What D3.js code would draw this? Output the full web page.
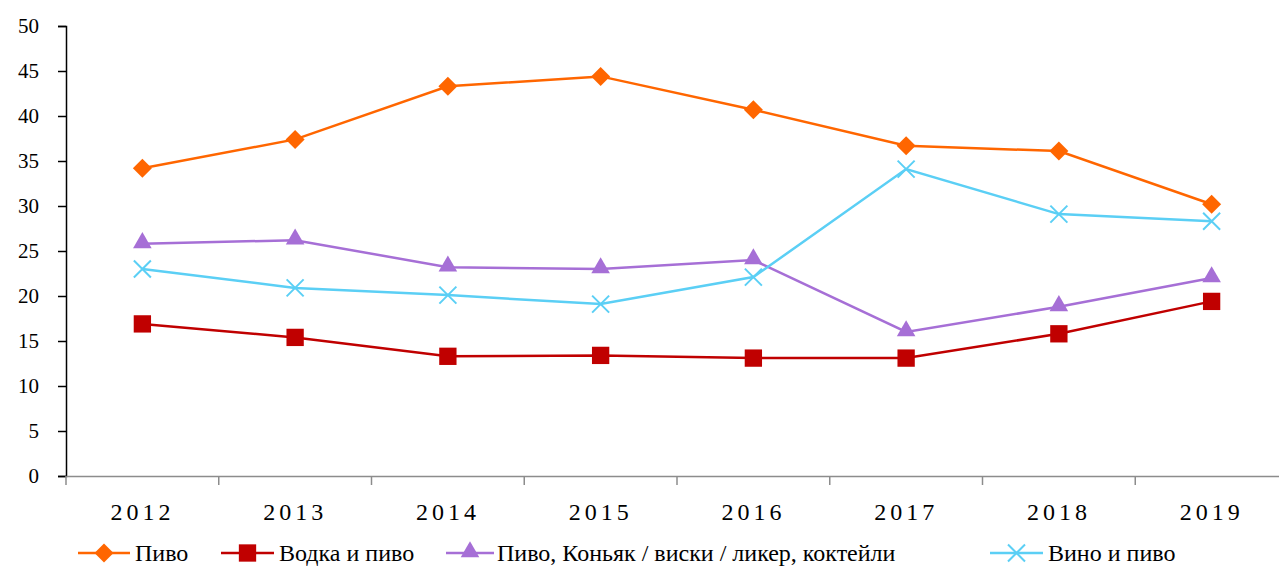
<!DOCTYPE html>
<html>
<head>
<meta charset="utf-8">
<script src="https://cdn.jsdelivr.net/npm/d3@7"></script>
<style>
  body { margin: 0; background: #fff; font-family: "Liberation Serif", serif; }
  text { font-family: "Liberation Serif", "Times New Roman", serif; }
</style>
</head>
<body>
<svg id="chart" width="1279" height="567" font-family="Liberation Serif"></svg>
<script>
// data
var years = ["2012", "2013", "2014", "2015", "2016", "2017", "2018", "2019"];
var pivo = [34.2, 37.4, 43.3, 44.4, 40.7, 36.7, 36.1, 30.2];
var vodkaPivo = [16.9, 15.4, 13.3, 13.4, 13.1, 13.1, 15.8, 19.4];
var pivoKonyak = [25.8, 26.2, 23.2, 23.0, 24.0, 16.0, 18.8, 22.0];
var vinoPivo = [23.0, 20.9, 20.1, 19.1, 22.1, 34.1, 29.1, 28.3];
var yTicks = [0, 5, 10, 15, 20, 25, 30, 35, 40, 45, 50];

var series = [
  { name: "Пиво", values: pivo, color: "#FF6600", symbol: "diamond" },
  { name: "Водка и пиво", values: vodkaPivo, color: "#C00000", symbol: "square" },
  { name: "Пиво, Коньяк / виски / ликер, коктейли", values: pivoKonyak, color: "#A66FD6", symbol: "triangle" },
  { name: "Вино и пиво", values: vinoPivo, color: "#5BCFF5", symbol: "cross" }
];

var FONT = "Liberation Serif";

var svg = d3.select("#chart");

// scales
var x = d3.scaleBand()
  .domain(years)
  .range([66, 1288]);

var y = d3.scaleLinear()
  .domain([0, 50])
  .range([476, 26]);

// y axis
var yAxis = svg.append("g")
  .attr("transform", "translate(66,0)")
  .call(d3.axisLeft(y).tickValues(yTicks).tickSize(8).tickPadding(19))
  .attr("font-family", FONT)
  .attr("font-size", 21);
yAxis.select(".domain").attr("stroke", "#000").attr("stroke-width", 1.5);
yAxis.selectAll(".tick line").attr("stroke", "#000").attr("stroke-width", 1.5);
yAxis.selectAll("text").attr("fill", "#000").attr("font-family", FONT);

// x axis
var xAxis = svg.append("g")
  .attr("transform", "translate(0,476)")
  .call(d3.axisBottom(x).tickSize(0).tickPadding(27))
  .attr("font-family", FONT)
  .attr("font-size", 24);
xAxis.select(".domain").attr("stroke", "#8c8c8c").attr("stroke-width", 1.5);
xAxis.selectAll("text")
  .attr("fill", "#000")
  .attr("font-family", FONT)
  .attr("letter-spacing", 4);

// category boundary ticks
svg.append("g").selectAll("line")
  .data(years)
  .enter()
  .append("line")
  .attr("x1", function(d) { return x(d); })
  .attr("x2", function(d) { return x(d); })
  .attr("y1", 476)
  .attr("y2", 485)
  .attr("stroke", "#8c8c8c")
  .attr("stroke-width", 1.5);

var cx = function(i) { return x(years[i]) + x.bandwidth() / 2; };

var symbolSize = { diamond: 180, square: 300, triangle: 150 };

function drawMarker(g, s, px, py) {
  if (s.symbol === "cross") {
    var r = 8.5;
    g.append("path")
      .attr("d", "M" + (px - r) + "," + (py - r) + "L" + (px + r) + "," + (py + r) +
                 "M" + (px - r) + "," + (py + r) + "L" + (px + r) + "," + (py - r))
      .attr("stroke", s.color)
      .attr("stroke-width", 2)
      .attr("fill", "none");
  } else {
    var type = s.symbol === "triangle" ? d3.symbolTriangle : d3.symbolSquare;
    g.append("path")
      .attr("d", d3.symbol().type(type).size(symbolSize[s.symbol])())
      .attr("transform", "translate(" + px + "," + (s.symbol === "triangle" ? py - 1 : py) + ")" +
                         (s.symbol === "diamond" ? " rotate(45)" : ""))
      .attr("fill", s.color);
  }
}

var line = d3.line()
  .x(function(d, i) { return cx(i); })
  .y(function(d) { return y(d); });

series.forEach(function(s) {
  var g = svg.append("g");
  g.append("path")
    .datum(s.values)
    .attr("d", line)
    .attr("fill", "none")
    .attr("stroke", s.color)
    .attr("stroke-width", 2.5);
  s.values.forEach(function(v, i) {
    drawMarker(g, s, cx(i), y(v));
  });
});

// legend
var legendLine = [[78, 130], [221, 274], [446, 494], [990, 1043]];
var legendText = [135, 279, 497, 1048];
var legendY = 553;
series.forEach(function(s, i) {
  var g = svg.append("g");
  g.append("line")
    .attr("x1", legendLine[i][0])
    .attr("x2", legendLine[i][1])
    .attr("y1", legendY)
    .attr("y2", legendY)
    .attr("stroke", s.color)
    .attr("stroke-width", 2.5);
  drawMarker(g, s, (legendLine[i][0] + legendLine[i][1]) / 2, legendY);
  g.append("text")
    .attr("x", legendText[i])
    .attr("y", legendY + 8)
    .attr("fill", "#000")
    .attr("font-family", FONT)
    .attr("font-size", 24)
    .text(s.name);
});
</script>
</body>
</html>
